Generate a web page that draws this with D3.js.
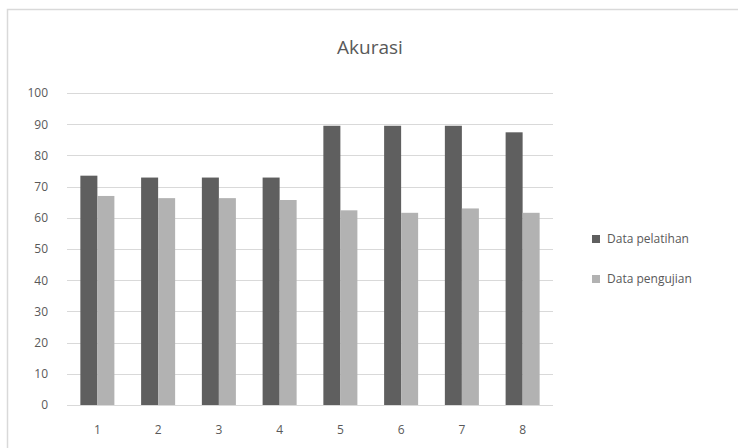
<!DOCTYPE html>
<html>
<head>
<meta charset="utf-8">
<script src="https://cdn.jsdelivr.net/npm/d3@7"></script>
<style>
  body { margin: 0; background: #fff; }
  svg text { font-family: "Open Sans", "Noto Sans", sans-serif; fill: #595959; }
</style>
</head>
<body>
<div id="chart"></div>
<script>
// data
var categories = ["1", "2", "3", "4", "5", "6", "7", "8"];
var seriesNames = ["Data pelatihan", "Data pengujian"];
var pelatihan = [73.5, 72.9, 72.9, 72.9, 89.5, 89.5, 89.5, 87.4];
var pengujian = [67.0, 66.3, 66.3, 65.7, 62.4, 61.6, 63.0, 61.6];
var yTicks = [0, 10, 20, 30, 40, 50, 60, 70, 80, 90, 100];
var colors = ["#5f5f5f", "#b2b2b2"];

var width = 738, height = 448;
var margin = {top: 93, right: 185, bottom: 43, left: 67};

var svg = d3.select("#chart").append("svg")
    .attr("width", width)
    .attr("height", height);

// outer chart border (right and bottom run off the picture)
svg.append("rect")
    .attr("x", 7.5).attr("y", 9.5)
    .attr("width", 760).attr("height", 460)
    .attr("fill", "none")
    .attr("stroke", "#d9d9d9")
    .attr("stroke-width", 1.5);

svg.append("text")
    .text("Akurasi")
    .attr("x", 370)
    .attr("y", 54)
    .attr("text-anchor", "middle")
    .attr("font-size", 19);

var g = svg.append("g")
    .attr("transform", "translate(" + margin.left + "," + margin.top + ")");

var plotW = width - margin.left - margin.right;
var plotH = height - margin.top - margin.bottom;

var x0 = d3.scaleBand()
    .domain(categories)
    .range([0, plotW])
    .paddingInner(0.44)
    .paddingOuter(0.22);

var x1 = d3.scaleBand()
    .domain([0, 1])
    .range([0, x0.bandwidth()]);

var y = d3.scaleLinear()
    .domain([0, 100])
    .range([plotH, 0]);

// gridlines
g.selectAll(".grid")
    .data(yTicks)
    .enter().append("line")
    .attr("class", "grid")
    .attr("x1", 0)
    .attr("x2", plotW)
    .attr("y1", d => Math.round(y(d)) + 0.5)
    .attr("y2", d => Math.round(y(d)) + 0.5)
    .attr("stroke", "#d9d9d9")
    .attr("stroke-width", 1);

// y axis labels
var yAxis = g.append("g")
    .call(d3.axisLeft(y).tickValues(yTicks).tickSize(0).tickPadding(19));
yAxis.select(".domain").remove();
yAxis.selectAll("text").attr("font-size", 12).attr("fill", "#595959")
    .style("font-family", "\"Open Sans\", \"Noto Sans\", sans-serif");

// x axis labels
var xAxis = g.append("g")
    .attr("transform", "translate(0," + plotH + ")")
    .call(d3.axisBottom(x0).tickSize(0).tickPadding(20));
xAxis.select(".domain").remove();
xAxis.selectAll("text").attr("font-size", 12).attr("fill", "#595959")
    .style("font-family", "\"Open Sans\", \"Noto Sans\", sans-serif");

var series = [pelatihan, pengujian];

series.forEach(function(values, s) {
    g.selectAll(".bar-" + s)
        .data(values)
        .enter().append("rect")
        .attr("class", "bar-" + s)
        .attr("x", (d, i) => x0(categories[i]) + x1(s))
        .attr("width", x1.bandwidth())
        .attr("y", d => y(d))
        .attr("height", d => plotH - y(d))
        .attr("fill", colors[s]);
});

// legend
var legend = svg.append("g")
    .attr("transform", "translate(592,235)");

var items = legend.selectAll(".item")
    .data(seriesNames)
    .enter().append("g")
    .attr("class", "item")
    .attr("transform", (d, i) => "translate(0," + (i * 40) + ")");

items.append("rect")
    .attr("width", 8)
    .attr("height", 8)
    .attr("fill", (d, i) => colors[i]);

items.append("text")
    .text(d => d)
    .attr("x", 15)
    .attr("y", 8)
    .attr("font-size", 12);
</script>
</body>
</html>
